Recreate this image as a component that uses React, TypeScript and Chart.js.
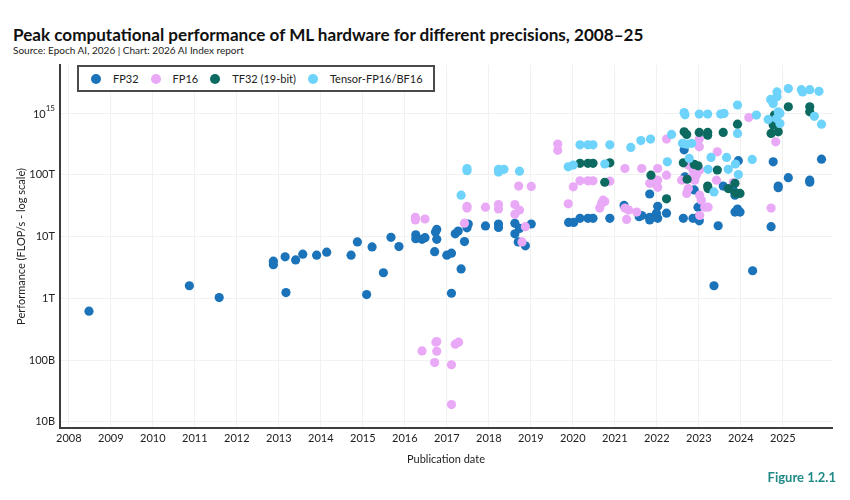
import React, { useEffect, useRef } from "react";
import { Chart, registerables } from "chart.js";

Chart.register(...registerables);

const FONT = "Lato, 'Noto Sans', sans-serif";

// [publication year, peak performance in TFLOP/s]
const fp32: [number, number][] = [
  [2008.48, 0.62], [2010.87, 1.6], [2011.58, 1.03], [2012.87, 4.0], [2012.87, 3.5],
  [2013.15, 4.7], [2013.17, 1.24], [2013.4, 4.2], [2013.57, 5.2], [2013.9, 5.0],
  [2014.14, 5.6], [2014.72, 5.0], [2014.87, 8.2], [2015.09, 1.15], [2015.22, 6.8],
  [2015.49, 2.6], [2015.67, 9.75], [2015.86, 6.9], [2016.26, 10.7], [2016.26, 9.25],
  [2016.41, 9.05], [2016.48, 9.6], [2016.71, 5.7], [2016.73, 11.9], [2016.76, 13.1],
  [2016.76, 9.05], [2017.0, 5.0], [2017.11, 5.4], [2017.11, 1.21], [2017.2, 11.1],
  [2017.27, 12.3], [2017.34, 3.0], [2017.42, 8.3], [2017.48, 13.9], [2017.51, 16],
  [2017.92, 14.9], [2018.23, 16], [2018.23, 14.1], [2018.62, 16.4], [2018.62, 11.1],
  [2018.7, 8.2], [2018.73, 13.6], [2018.87, 7.1], [2019.01, 16], [2019.9, 17],
  [2020.02, 17], [2020.17, 19.8], [2020.36, 19.8], [2020.48, 19.8], [2020.88, 19.8],
  [2021.22, 32], [2021.58, 21], [2021.64, 22], [2021.83, 20.5], [2021.83, 18.6],
  [2021.83, 49], [2021.99, 24], [2022.02, 31], [2022.02, 19.8], [2022.23, 24],
  [2022.63, 19.8], [2022.65, 255], [2022.67, 93], [2022.75, 58], [2022.89, 57],
  [2022.86, 19.8], [2022.98, 20.5], [2022.98, 30], [2023.01, 18], [2023.36, 1.6],
  [2023.46, 15], [2023.58, 66], [2023.82, 57], [2023.86, 47], [2023.86, 25],
  [2023.92, 28], [2023.98, 25], [2023.94, 170], [2024.28, 2.8], [2024.72, 14.5],
  [2024.77, 163], [2024.89, 66], [2024.89, 62], [2025.13, 90], [2025.64, 82],
  [2025.64, 76], [2025.92, 180],
];

const fp16: [number, number][] = [
  [2016.25, 20.5], [2016.25, 18.6], [2016.48, 19.3], [2016.41, 0.141], [2016.71, 0.091],
  [2016.74, 0.195], [2016.76, 0.2], [2016.76, 0.139], [2017.11, 0.084], [2017.11, 0.019],
  [2017.2, 0.181], [2017.28, 0.195], [2017.42, 16.5], [2017.48, 31], [2017.48, 29],
  [2017.92, 30], [2018.23, 33], [2018.23, 28], [2018.62, 33], [2018.73, 27],
  [2018.62, 23], [2018.79, 8.2], [2018.87, 14.5], [2018.71, 66], [2019.01, 65],
  [2019.64, 316], [2019.64, 250], [2019.89, 34], [2020.01, 64], [2020.17, 80],
  [2020.36, 80], [2020.48, 80], [2020.88, 79], [2020.72, 39], [2020.76, 37],
  [2020.68, 34], [2020.64, 29], [2021.24, 127], [2021.24, 29], [2021.33, 27],
  [2021.28, 19], [2021.52, 25], [2021.64, 127], [2022.02, 127], [2022.23, 380],
  [2022.23, 99], [2022.02, 82], [2021.93, 73], [2022.02, 63], [2021.83, 73],
  [2022.59, 82], [2022.75, 144], [2022.86, 120], [2022.94, 99], [2022.79, 88],
  [2022.9, 82], [2023.02, 120], [2022.75, 60], [2022.71, 50], [2023.06, 39],
  [2023.02, 47], [2023.14, 30], [2023.22, 30], [2023.02, 22], [2023.01, 380],
  [2023.01, 285], [2023.44, 236], [2023.42, 82], [2023.82, 75], [2024.19, 850],
  [2024.83, 343], [2024.72, 29],
];

const tf32: [number, number][] = [
  [2020.17, 154], [2020.36, 154], [2020.48, 154], [2020.88, 157], [2020.76, 76],
  [2021.86, 99], [2022.23, 41], [2022.65, 498], [2022.71, 452], [2022.63, 157],
  [2022.72, 85], [2022.89, 148], [2022.98, 140], [2023.01, 487], [2023.21, 487],
  [2023.21, 440], [2023.58, 487], [2023.21, 66], [2023.22, 60], [2023.44, 120],
  [2023.92, 664], [2023.7, 60], [2023.87, 50], [2023.98, 50], [2023.86, 73],
  [2024.77, 640], [2024.89, 498], [2024.72, 470], [2024.8, 930], [2025.13, 1270],
  [2025.64, 1270], [2025.64, 1050],
];

const tensor16: [number, number][] = [
  [2017.34, 47], [2017.48, 117], [2017.48, 127], [2018.23, 123], [2018.23, 111],
  [2018.36, 123], [2018.73, 115], [2019.89, 135], [2020.01, 144], [2020.17, 307],
  [2020.36, 307], [2020.48, 307], [2020.88, 307], [2020.76, 150], [2021.38, 279],
  [2021.62, 360], [2021.85, 380], [2022.25, 163], [2022.35, 452], [2022.65, 1025],
  [2022.67, 940], [2022.61, 324], [2022.71, 315], [2022.83, 324], [2022.77, 185],
  [2023.01, 965], [2023.21, 965], [2023.52, 965], [2023.29, 192], [2023.22, 123],
  [2023.36, 53], [2023.6, 990], [2023.92, 1350], [2023.92, 470], [2024.37, 930],
  [2024.27, 178], [2023.66, 192], [2023.7, 123], [2023.87, 150], [2023.94, 101],
  [2024.65, 790], [2024.71, 1670], [2024.77, 1430], [2024.86, 1840], [2024.86, 2210],
  [2025.13, 2500], [2025.44, 2400], [2025.47, 2210], [2025.64, 2400], [2025.86, 2260],
  [2024.93, 990], [2024.89, 1050], [2024.85, 820], [2024.93, 680], [2025.75, 890],
  [2025.92, 664],
];

const seriesLabels = ["FP32", "FP16", "TF32 (19-bit)", "Tensor-FP16/BF16"];
const seriesColors = ["#1b73b9", "#e9a9f6", "#0d6a61", "#6dd3fb"];
const seriesData = [fp32, fp16, tf32, tensor16];

const xYears = [2008, 2009, 2010, 2011, 2012, 2013, 2014, 2015, 2016, 2017, 2018, 2019, 2020, 2021, 2022, 2023, 2024, 2025];
// y values are in TFLOP/s
const yTickValues = [0.01, 0.1, 1, 10, 100, 1000];
const yTickLabels = ["10B", "100B", "1T", "10T", "100T", ""];

// draws the "10^15" label with a raised exponent
const powerLabel = {
  id: "powerLabel",
  afterDraw(chart: any) {
    const y = chart.scales.y;
    const py = y.getPixelForValue(1000);
    const ctx = chart.ctx;
    ctx.save();
    ctx.fillStyle = "#222";
    ctx.textBaseline = "middle";
    ctx.textAlign = "right";
    ctx.font = `8px ${FONT}`;
    const right = y.right - 5;
    ctx.fillText("15", right, py - 5);
    const expW = ctx.measureText("15").width;
    ctx.font = `11px ${FONT}`;
    ctx.fillText("10", right - expW, py + 1);
    ctx.restore();
  },
};

function ScatterChart() {
  const ref = useRef<HTMLCanvasElement | null>(null);
  useEffect(() => {
    if (!ref.current) return;
    const chart = new Chart(ref.current, {
      type: "scatter",
      data: {
        datasets: seriesData.map((d, i) => ({
          label: seriesLabels[i],
          data: d.map(([x, y]) => ({ x, y })),
          backgroundColor: seriesColors[i],
          borderColor: seriesColors[i],
          borderWidth: 0,
          pointRadius: 4.6,
          pointHoverRadius: 4.6,
          order: 4 - i,
        })),
      },
      options: {
        animation: false,
        responsive: false,
        maintainAspectRatio: false,
        layout: { padding: { top: 65, right: 18, left: 0, bottom: 0 } },
        plugins: { legend: { display: false }, tooltip: { enabled: false } },
        scales: {
          x: {
            type: "linear",
            min: 2007.79,
            max: 2026.17,
            afterBuildTicks: (s: any) => {
              s.ticks = xYears.map((v) => ({ value: v }));
            },
            afterFit: (s: any) => {
              s.height = 72;
            },
            grid: { color: "#f1f1f1", drawTicks: false, lineWidth: 1 },
            border: { color: "#3c3c3c", width: 2 },
            ticks: {
              padding: 4,
              color: "#222",
              font: { family: FONT, size: 11 },
              maxRotation: 0,
              autoSkip: false,
              callback: (v: any) => String(v),
            },
            title: {
              display: true,
              text: "Publication date",
              color: "#222",
              font: { family: FONT, size: 11 },
              padding: { top: 0, bottom: 34 },
            },
          },
          y: {
            type: "logarithmic",
            min: Math.pow(10, -2.1),
            max: Math.pow(10, 3.78),
            afterBuildTicks: (s: any) => {
              s.ticks = yTickValues.map((v) => ({ value: v }));
            },
            afterFit: (s: any) => {
              s.width = 60;
            },
            grid: { color: "#f1f1f1", drawTicks: false, lineWidth: 1 },
            border: { color: "#3c3c3c", width: 2 },
            ticks: {
              padding: 5,
              color: "#222",
              font: { family: FONT, size: 11 },
              autoSkip: false,
              callback: (v: any) => {
                const i = yTickValues.findIndex((t) => Math.abs(Math.log10(t) - Math.log10(v)) < 1e-6);
                return i >= 0 ? yTickLabels[i] : "";
              },
            },
            title: {
              display: true,
              text: "Performance (FLOP/s - log scale)",
              color: "#222",
              font: { family: FONT, size: 11 },
              padding: { top: 15, bottom: 0 },
            },
          },
        },
      },
      plugins: [powerLabel],
    });
    return () => chart.destroy();
  }, []);
  return <canvas ref={ref} width={850} height={500} style={{ position: "absolute", left: 0, top: 0 }} />;
}

export default function App() {
  return (
    <div style={{ position: "absolute", left: 0, top: 0, width: 850, height: 500, background: "#fff", fontFamily: FONT, color: "#111", overflow: "hidden" }}>
      <div style={{ position: "absolute", left: 13, top: 24, fontSize: 17.1, fontWeight: 700, whiteSpace: "nowrap" }}>
        Peak computational performance of ML hardware for different precisions, 2008–25
      </div>
      <div style={{ position: "absolute", left: 13, top: 44, fontSize: 10, whiteSpace: "nowrap", color: "#222" }}>
        Source: Epoch AI, 2026 | Chart: 2026 AI Index report
      </div>
      <ScatterChart />
      <div
        style={{
          position: "absolute",
          left: 77,
          top: 65,
          height: 27,
          boxSizing: "border-box",
          border: "2px solid #4a4a4a",
          background: "#fff",
          display: "flex",
          alignItems: "center",
          paddingLeft: 12,
          paddingRight: 10,
          gap: 12,
          fontSize: 11,
          color: "#222",
          whiteSpace: "nowrap",
        }}
      >
        {seriesLabels.map((l, i) => (
          <div key={l} style={{ display: "flex", alignItems: "center" }}>
            <span style={{ display: "inline-block", width: 10, height: 10, borderRadius: 5, background: seriesColors[i], marginRight: 12 }} />
            <span>{l}</span>
          </div>
        ))}
      </div>
      <div style={{ position: "absolute", right: 14, top: 469, fontSize: 13, fontWeight: 700, color: "#1f8a86" }}>Figure 1.2.1</div>
    </div>
  );
}
